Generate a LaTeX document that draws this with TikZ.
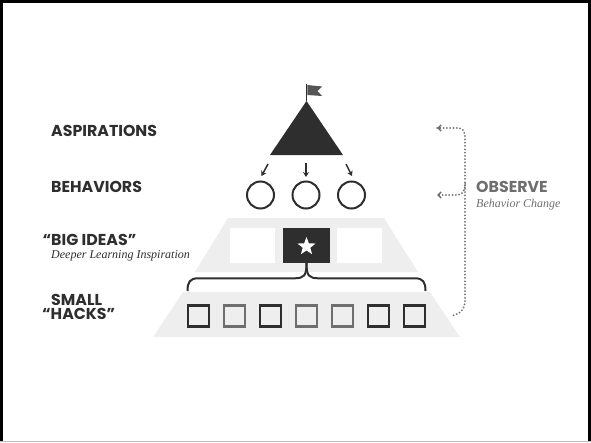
\documentclass[tikz,border=0pt]{standalone}
\usepackage{fontspec}
\setmainfont{Liberation Serif}
\newfontfamily\labfont{Poppins}
\usetikzlibrary{shapes.geometric,arrows.meta}
\definecolor{dk}{HTML}{2E2E2E}
\definecolor{mg}{HTML}{6E6E6E}
\definecolor{lg}{HTML}{EEEEEE}
\definecolor{fg}{HTML}{555555}
\begin{document}
\begin{tikzpicture}[x=1pt,y=-1pt,
  lab/.style={anchor=base west,inner sep=0,font=\labfont\bfseries\fontsize{15.8}{17}\selectfont,text=dk},
  sub/.style={anchor=base west,inner sep=0,font=\itshape\fontsize{12}{14}\selectfont,text=#1},
  panel/.style={fill=#1,minimum width=45pt,minimum height=35pt,inner sep=0},
  hack/.style={draw=#1,line width=2.4pt,minimum size=21pt,inner sep=0},
  beh/.style={circle,draw=dk,line width=2pt,minimum size=27pt,inner sep=0},
  drop/.style={-{Stealth[length=5pt,width=6pt]},line width=1.5pt,draw=dk},
  obs/.style={draw=mg,line width=2pt,dash pattern=on 0pt off 3.3pt,line cap=round},
  obstip/.style={draw=mg,line width=1.5pt,-{Straight Barb[length=3pt,width=6pt]}}]
\useasboundingbox (0,0) rectangle (591,442);
% frame
\draw[black,line width=3pt] (1.5,442) -- (1.5,1) -- (589.8,1) -- (589.8,442);
\draw[black!25,line width=1pt] (0,441) -- (591,441);
% trapezoids
\fill[lg] (228,218) -- (384,218) -- (418,272) -- (195,272) -- cycle;
\fill[lg] (183,292) -- (430,292) -- (460,337) -- (153,337) -- cycle;
% aspiration triangle and flag
\coordinate (apex) at (306.5,101);
\coordinate (tl) at (270,155);
\coordinate (tr) at (343,155);
\fill[dk] (apex) -- (tr) -- (tl) -- cycle;
\draw[dk,line width=1.8pt] (apex) -- (306.5,84);
\fill[fg] (307.3,85) -- (322,86.5) -- (317.5,91) -- (322,96) -- (307.3,95) -- cycle;
% behaviors
\node[beh] (b1) at (260.5,195) {};
\node[beh] (b2) at (306,195) {};
\node[beh] (b3) at (351.5,195) {};
\coordinate (s1) at (268,164);
\coordinate (s2) at (306,163);
\coordinate (s3) at (346,164);
\draw[drop] (s1) -- (261.5,176);
\draw[drop] (s2) -- (306,177);
\draw[drop] (s3) -- (352,176);
% big ideas panels
\node[panel=white] (p1) at (252.5,245.5) {};
\node[panel=dk,minimum width=47pt] (p2) at (306.5,245.5) {};
\node[panel=white] (p3) at (359.5,245.5) {};
\node[star,star points=5,star point ratio=2.4,fill=white,minimum size=19pt,inner sep=0] (st) at (306.5,246.5) {};
% brace
\coordinate (bl) at (187.5,291);
\coordinate (br) at (425.5,291);
\draw[dk,line width=2pt] (p2.south) .. controls (306.5,276) and (304,278.3) .. (294,278.3) -- (198,278.3) .. controls (190,278.3) and (187.5,282) .. (bl);
\draw[dk,line width=2pt] (p2.south) .. controls (306.5,276) and (309,278.3) .. (319,278.3) -- (415,278.3) .. controls (423,278.3) and (425.5,282) .. (br);
% small hacks
\node[hack=dk] (h1) at (198.5,316) {};
\node[hack=mg] (h2) at (234.5,316) {};
\node[hack=dk] (h3) at (270.5,316) {};
\node[hack=mg] (h4) at (306.5,316) {};
\node[hack=mg] (h5) at (342.5,316) {};
\node[hack=dk] (h6) at (378.5,316) {};
\node[hack=dk] (h7) at (414.5,316) {};
% observe bracket
\coordinate (oa) at (437,128);
\coordinate (ob) at (437,195);
\coordinate (oe) at (451,316);
\draw[obs] (oa) -- (458,128) .. controls (464,128) and (465,132) .. (465,140) -- (465,300) .. controls (465,310) and (460,314) .. (oe);
\draw[obs] (465,184) .. controls (465,192) and (462,195) .. (456,195) -- (ob);
\draw[obstip] (439,128) -- (oa);
\draw[obstip] (439,195) -- (ob);
% labels
\node[lab] (asp) at (51,136) {ASPIRATIONS};
\node[lab] (beh) at (51,192.7) {BEHAVIORS};
\node[lab] (big) at (42.5,245) {“BIG IDEAS”};
\node[sub=dk] (dli) at (51,258.3) {Deeper Learning Inspiration};
\node[lab] (sm) at (51,305) {SMALL};
\node[lab] (hk) at (42,319.7) {“HACKS”};
\node[lab,text=mg] (obsv) at (476,192.2) {OBSERVE};
\node[sub=mg] (bc) at (476,207.5) {Behavior Change};
\end{tikzpicture}
\end{document}
